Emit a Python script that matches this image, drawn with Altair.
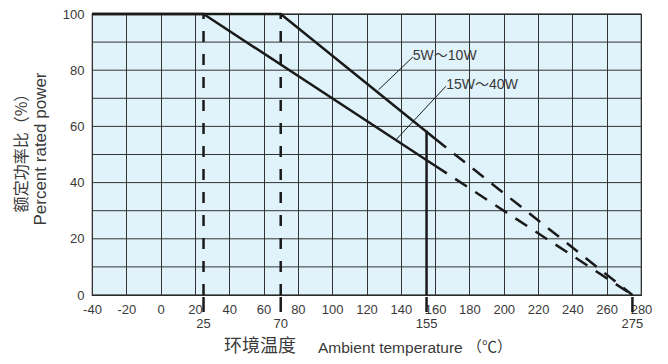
import altair as alt
import pandas as pd

# ---- data ----
x_ticks = [-40, -20, 0, 20, 40, 60, 80, 100, 120, 140, 160, 180, 200, 220, 240, 260, 280]
y_labels = [0, 20, 40, 60, 80, 100]
y_grid = [0, 10, 20, 30, 40, 50, 60, 70, 80, 90, 100]
extra_ticks = [25, 70, 155, 275]

s1_name = "5W～10W"
s1_solid_t = [-40, 70, 160]
s1_solid_p = [100, 100, 55.6]
s1_dash_t = [160, 275]
s1_dash_p = [55.6, 0]

s2_name = "15W～40W"
s2_solid_t = [-40, 25, 160]
s2_solid_p = [100, 100, 46]
s2_dash_t = [160, 275]
s2_dash_p = [46, 0]

vdash_t = [25, 70]
vsolid_t = [155]
vsolid_top = [58.5]

# annotation text anchors and leader lines (data coords)
ann_text = [s1_name, s2_name]
ann_tx = [147, 166.5]
ann_ty = [85.1, 74.7]
lead_x1 = [147, 166.3]
lead_y1 = [84.7, 74.3]
lead_x2 = [127, 137.6]
lead_y2 = [73, 55.5]

W, H = 549, 281
LINE = "#1a1a1a"
TXT = "#3a3a3a"
FONT = "Liberation Sans, Arial, Noto Sans CJK SC"
CJK = "Noto Sans CJK SC"

xs = alt.Scale(domain=[-40, 280], nice=False, zero=False)
ys = alt.Scale(domain=[0, 100], nice=False)

x_axis = alt.Axis(values=x_ticks, grid=True, ticks=False, tickSize=0, domain=False,
                  labelPadding=8, labelOverlap=False, labelFlush=False, title=None,
                  labelExpr="toString(datum.value)")
y_axis = alt.Axis(values=y_labels, grid=False, ticks=False, tickSize=0, domain=False,
                  labelPadding=8, labelOverlap=False, title=None,
                  labelExpr="toString(datum.value)")


def X(f):
    return alt.X(f, scale=xs, axis=x_axis)


def Y(f):
    return alt.Y(f, scale=ys, axis=y_axis)


hgrid = alt.Chart(pd.DataFrame({"g": y_grid})).mark_rule(color="#333", strokeWidth=1).encode(
    y=Y("g:Q"))


def curve(t, p, dash=None):
    df = pd.DataFrame({"t": t, "p": p})
    kw = dict(color=LINE, strokeWidth=2.5, strokeCap="butt")
    if dash:
        kw["strokeDash"] = dash
    return alt.Chart(df).mark_line(**kw).encode(x=X("t:Q"), y=Y("p:Q"))


c1 = curve(s1_solid_t, s1_solid_p)
c1d = curve(s1_dash_t, s1_dash_p, [14, 10])
c2 = curve(s2_solid_t, s2_solid_p)
c2d = curve(s2_dash_t, s2_dash_p, [14, 10])

vdash = alt.Chart(pd.DataFrame({"t": vdash_t, "lo": [0, 0], "hi": [100, 100]})).mark_rule(
    color=LINE, strokeWidth=2.5, strokeDash=[11, 12]).encode(
    x=X("t:Q"), y=Y("lo:Q"), y2="hi:Q")

vsolid = alt.Chart(pd.DataFrame({"t": vsolid_t, "lo": [0], "hi": vsolid_top})).mark_rule(
    color=LINE, strokeWidth=2.5).encode(
    x=X("t:Q"), y=Y("lo:Q"), y2="hi:Q")

tick_df = pd.DataFrame({"t": extra_ticks})
ticks = alt.Chart(tick_df).mark_rule(color=LINE, strokeWidth=2.5).encode(
    x=X("t:Q"), y=alt.value(H + 2), y2=alt.value(H + 17))
tick_lbl = alt.Chart(tick_df).mark_text(fontSize=13, color=TXT, font=FONT, baseline="middle").encode(
    x=X("t:Q"), y=alt.value(H + 29), text="t:Q")

lead = alt.Chart(pd.DataFrame({"x1": lead_x1, "y1": lead_y1, "x2": lead_x2, "y2": lead_y2})).mark_rule(
    color=LINE, strokeWidth=1).encode(
    x=X("x1:Q"), y=Y("y1:Q"), x2="x2:Q", y2="y2:Q")

ann = alt.Chart(pd.DataFrame({"x": ann_tx, "y": ann_ty, "s": ann_text})).mark_text(
    fontSize=14, color=TXT, font=FONT, align="left", baseline="middle").encode(
    x=X("x:Q"), y=Y("y:Q"), text="s:N")

# axis titles as text marks (mixed fonts / sizes)
xt1 = alt.Chart(pd.DataFrame({"s": ["环境温度"]})).mark_text(
    fontSize=18, color=TXT, font=CJK, align="left", baseline="middle").encode(
    x=alt.value(132), y=alt.value(H + 52), text="s:N")
xt2 = alt.Chart(pd.DataFrame({"s": ["Ambient temperature"]})).mark_text(
    fontSize=15.5, color=TXT, font=FONT, align="left", baseline="middle").encode(
    x=alt.value(226), y=alt.value(H + 53), text="s:N")
xt3 = alt.Chart(pd.DataFrame({"s": ["（℃）"]})).mark_text(
    fontSize=15, color=TXT, font=CJK, align="left", baseline="middle").encode(
    x=alt.value(375), y=alt.value(H + 52), text="s:N")
yt1 = alt.Chart(pd.DataFrame({"s": ["额定功率比（%）"]})).mark_text(
    fontSize=16, color=TXT, font=CJK, angle=270, align="center", baseline="middle").encode(
    x=alt.value(-70), y=alt.value(135), text="s:N")
yt2 = alt.Chart(pd.DataFrame({"s": ["Percent rated power"]})).mark_text(
    fontSize=17, color=TXT, font=FONT, angle=270, align="center", baseline="middle").encode(
    x=alt.value(-51), y=alt.value(135), text="s:N")

chart = alt.layer(
    hgrid, vdash, vsolid, c1, c1d, c2, c2d, lead, ann, ticks, tick_lbl, xt1, xt2, xt3, yt1, yt2
).properties(
    width=W, height=H,
    autosize=alt.AutoSizeParams(type="none"),
    padding={"left": 84, "top": 6, "right": 19, "bottom": 61},
).configure_view(
    fill="#e0f2fa", stroke="#222", strokeWidth=1.2
).configure_axis(
    gridColor="#333", gridWidth=1, gridOpacity=1,
    labelFontSize=13, labelColor=TXT, labelFont=FONT,
)

chart.save("out.html", embed_options={"renderer": "svg", "actions": False})
